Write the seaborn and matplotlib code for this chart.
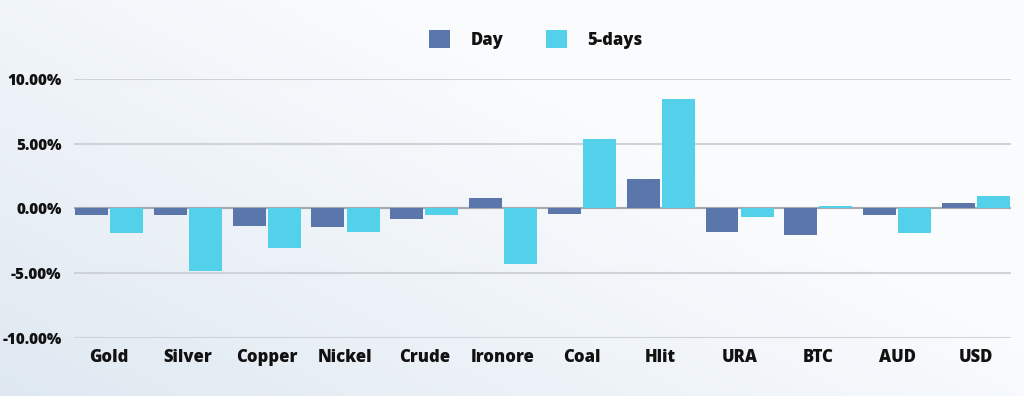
import numpy as np
import pandas as pd
import matplotlib
matplotlib.use("Agg")
import matplotlib.pyplot as plt
import seaborn as sns
from matplotlib.ticker import FuncFormatter

categories = ["Gold", "Silver", "Copper", "Nickel", "Crude", "Ironore",
              "Coal", "Hlit", "URA", "BTC", "AUD", "USD"]
day_values = [-0.54, -0.54, -1.37, -1.44, -0.82, 0.85,
              -0.44, 2.27, -1.78, -2.06, -0.54, 0.39]
five_day_values = [-1.86, -4.85, -3.02, -1.83, -0.54, -4.30,
                   5.36, 8.45, -0.64, 0.23, -1.90, 0.93]
series_names = ["Day", "5-days"]
y_ticks = [-10, -5, 0, 5, 10]

df = pd.DataFrame({
    "cat": categories * 2,
    "val": day_values + five_day_values,
    "series": [series_names[0]] * len(categories) + [series_names[1]] * len(categories),
})

sns.set_theme(style="white")
plt.rcParams["font.family"] = ["Open Sans", "DejaVu Sans"]

fig = plt.figure(figsize=(10.24, 3.96), dpi=100)

# background gradient (bluish at bottom-left, near white at top/right)
bg = fig.add_axes([0, 0, 1, 1], zorder=-10)
xx, yy = np.meshgrid(np.linspace(0, 1, 256), np.linspace(0, 1, 128))
t = np.clip((1 - xx) * 0.75 + (1 - yy) * 0.55 - 0.45, 0, 1)
c0 = np.array([0.982, 0.988, 0.995])
c1 = np.array([0.855, 0.898, 0.937])
img = c0[None, None, :] * (1 - t[..., None]) + c1[None, None, :] * t[..., None]
bg.imshow(img, aspect="auto", extent=[0, 1, 0, 1], origin="lower")
bg.set_axis_off()

ax = fig.add_axes([0.0723, 0.147, 0.915, 0.653])
ax.patch.set_alpha(0)

palette = {"Day": "#5a76ab", "5-days": "#53d0ea"}
sns.barplot(data=df, x="cat", y="val", hue="series", palette=palette,
            width=0.89, gap=0.06, ax=ax, saturation=1, legend=True,
            linewidth=0, zorder=3)

ax.set_ylim(-10, 10)
ax.set_xlim(-0.445, len(categories) - 1 + 0.445)
ax.set_yticks(y_ticks)
ax.yaxis.set_major_formatter(FuncFormatter(lambda v, p: f"{v:.2f}%"))
for sp in ax.spines.values():
    sp.set_visible(False)
ax.grid(axis="y", color="#cfd2d6", linewidth=1.5, zorder=0)
ax.set_axisbelow(True)
ax.axhline(0, color="#a6a9ad", linewidth=1.5, zorder=1.5)
ax.set_xlabel("")
ax.set_ylabel("")
ax.tick_params(axis="y", length=0, pad=9, labelsize=11)
ax.tick_params(axis="x", length=0, pad=8, labelsize=12)
for lab in ax.get_xticklabels() + ax.get_yticklabels():
    lab.set_fontweight("heavy")
    lab.set_color("#111111")

leg = ax.legend(loc="lower center", bbox_to_anchor=(0.493, 1.06), ncol=2,
                frameon=False, handlelength=1.25, handleheight=1.25,
                columnspacing=2.6, handletextpad=1.2,
                prop={"weight": "heavy", "size": 12})
for t_ in leg.get_texts():
    t_.set_color("#111111")

fig.savefig("out.png", dpi=100)
